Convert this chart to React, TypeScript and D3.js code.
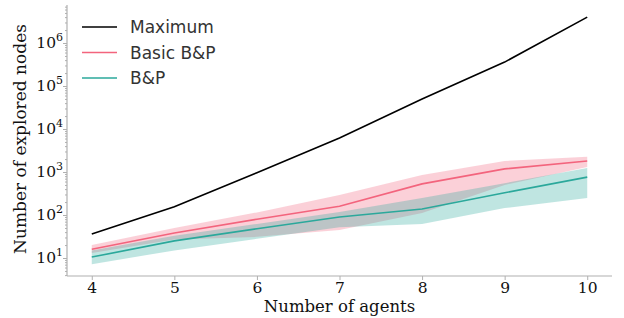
import * as d3 from "d3";
import React, { useEffect, useRef } from "react";

// number of agents
const agents = [4, 5, 6, 7, 8, 9, 10];

// explored nodes
const maximum = [36, 155, 960, 6200, 50000, 360000, 4000000];
const basicMean = [16, 38, 80, 160, 530, 1180, 1800];
const basicLow = [13, 27, 31, 45, 112, 500, 1300];
const basicHigh = [20, 50, 115, 290, 850, 1800, 2250];
const bpMean = [10.5, 25, 48, 90, 138, 330, 760];
const bpLow = [7.2, 15, 28, 52, 62, 145, 250];
const bpHigh = [15, 33, 62, 117, 250, 550, 1240];

const xTicks = [4, 5, 6, 7, 8, 9, 10];
const yTicks = [10, 100, 1000, 10000, 100000, 1000000];

const legendItems = [
  { label: "Maximum", color: "#000000" },
  { label: "Basic B&P", color: "#f3647d" },
  { label: "B&P", color: "#2ba89b" },
];

const App = () => {
  const svgRef = useRef<SVGSVGElement>(null);

  useEffect(() => {
    const w = 624;
    const h = 318;
    const left = 67, right = 612, top = 5, bottom = 276;

    const svg = d3.select(svgRef.current).attr("width", w).attr("height", h);
    svg.selectAll("*").remove();

    const x = d3.scaleLinear().domain([3.7, 10.3]).range([left, right]);
    // fit to the picture: 10^1 at 258px, 10^6 at 43px
    const yLin = d3.scaleLinear().domain([1, 6]).range([258, 43]);
    const y = d3.scaleLog()
      .domain([Math.pow(10, yLin.invert(bottom)), Math.pow(10, yLin.invert(top))])
      .range([bottom, top]);

    const serif = "DejaVu Serif";
    const axisColor = "#b0b0b0";

    // bands
    const band = (lo: number[], hi: number[]) =>
      d3.area<number>()
        .x((d) => x(d))
        .y0((_, i) => y(lo[i]))
        .y1((_, i) => y(hi[i]));

    svg.append("path")
      .datum(agents)
      .attr("d", band(basicLow, basicHigh))
      .attr("fill", "#f3647d")
      .attr("fill-opacity", 0.3);

    svg.append("path")
      .datum(agents)
      .attr("d", band(bpLow, bpHigh))
      .attr("fill", "#2ba89b")
      .attr("fill-opacity", 0.3);

    const line = (vals: number[]) =>
      d3.line<number>()
        .x((d) => x(d))
        .y((_, i) => y(vals[i]));

    [
      [maximum, "#000000"],
      [basicMean, "#f3647d"],
      [bpMean, "#2ba89b"],
    ].forEach(([vals, color]) => {
      svg.append("path")
        .datum(agents)
        .attr("d", line(vals as number[]))
        .attr("fill", "none")
        .attr("stroke", color as string)
        .attr("stroke-width", 1.6);
    });

    // axes
    const xAxis = d3.axisBottom(x).tickValues(xTicks).tickSize(4).tickPadding(2)
      .tickFormat(d3.format("d"));
    const gx = svg.append("g")
      .attr("transform", `translate(0, ${bottom})`)
      .call(xAxis);
    gx.select(".domain").attr("stroke", axisColor).attr("stroke-width", 1.2)
      .attr("d", `M${left},0H${right}`);
    gx.selectAll(".tick line").attr("stroke", axisColor);
    gx.selectAll(".tick text")
      .attr("font-family", serif)
      .attr("font-size", 15.5)
      .attr("fill", "#111");

    // minor ticks on log axis
    const minor: number[] = [];
    for (let e = 0; e <= 6; e++) {
      for (let m = 2; m <= 9; m++) {
        const v = m * Math.pow(10, e);
        if (v >= y.domain()[0] && v <= y.domain()[1]) minor.push(v);
      }
    }
    const gyMinor = svg.append("g")
      .attr("transform", `translate(${left}, 0)`)
      .call(d3.axisLeft(y).tickValues(minor).tickSize(2).tickFormat(() => ""));
    gyMinor.select(".domain").remove();
    gyMinor.selectAll(".tick line").attr("stroke", axisColor);

    const gy = svg.append("g")
      .attr("transform", `translate(${left}, 0)`)
      .call(d3.axisLeft(y).tickValues(yTicks).tickSize(4).tickPadding(4).tickFormat(() => ""));
    gy.select(".domain").attr("stroke", axisColor).attr("stroke-width", 1.2)
      .attr("d", `M0,${bottom}V${top}`);
    gy.selectAll(".tick line").attr("stroke", axisColor);
    gy.selectAll<SVGGElement, number>(".tick").each(function (d) {
      const t = d3.select(this).append("text")
        .attr("x", -4)
        .attr("dy", "0.42em")
        .attr("text-anchor", "end")
        .attr("font-family", serif)
        .attr("fill", "#111");
      t.append("tspan").attr("font-size", 15.5).text("10");
      t.append("tspan")
        .attr("font-size", 11)
        .attr("dy", -7)
        .text(String(Math.round(Math.log10(d))));
    });

    // axis titles
    svg.append("text")
      .attr("x", (left + right) / 2)
      .attr("y", 312)
      .attr("text-anchor", "middle")
      .attr("font-family", serif)
      .attr("font-size", 16.5)
      .attr("fill", "#111")
      .text("Number of agents");

    svg.append("text")
      .attr("transform", `translate(26, 139) rotate(-90)`)
      .attr("text-anchor", "middle")
      .attr("font-family", serif)
      .attr("font-size", 17)
      .attr("fill", "#111")
      .text("Number of explored nodes");

    // legend
    const lg = svg.append("g");
    legendItems.forEach((item, i) => {
      const ly = 27 + i * 25.5;
      lg.append("line")
        .attr("x1", 82).attr("x2", 117)
        .attr("y1", ly).attr("y2", ly)
        .attr("stroke", item.color)
        .attr("stroke-width", 1.6);
      lg.append("text")
        .attr("x", 130)
        .attr("y", ly)
        .attr("dy", "0.36em")
        .attr("font-family", "DejaVu Sans")
        .attr("font-size", 17)
        .attr("fill", "#333")
        .text(item.label);
    });
  }, []);

  return (
    <div style={{ position: "absolute", left: 0, top: 0 }}>
      <svg ref={svgRef} style={{ display: "block" }} />
    </div>
  );
};

export default App;
